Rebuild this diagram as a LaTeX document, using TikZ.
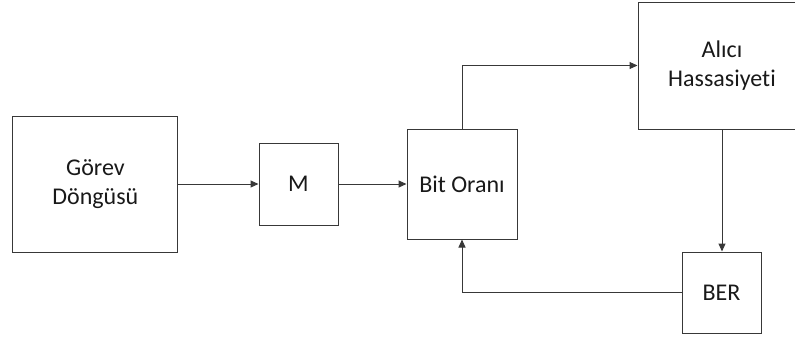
\documentclass[tikz,border=0pt]{standalone}
\usepackage{fontspec}
\setmainfont{Carlito}[Ligatures={CommonOff,RareOff}]
\usetikzlibrary{arrows.meta}
\begin{document}
\begin{tikzpicture}[x=1pt,y=-1pt,
  blk/.style={draw=black!78,line width=1pt,inner sep=0pt,align=center,
    font=\fontsize{24}{29}\selectfont,text=black!90},
  conn/.style={draw=black!78,line width=1pt,-{Triangle[length=8pt,width=7pt]}}]
  \clip (0,0) rectangle (795,338);
  \node[blk,minimum width=165pt,minimum height=136pt] (gorev) at (95.4,184) {Görev\\Döngüsü};
  \node[blk,minimum width=79pt,minimum height=82pt] (m) at (298.5,184) {M};
  \node[blk,minimum width=110pt,minimum height=110pt] (bit) at (462,184) {Bit Oranı};
  \node[blk,minimum width=168pt,minimum height=127pt] (alici) at (722,65.5) {Alıcı\\Hassasiyeti};
  \node[blk,minimum width=79pt,minimum height=81pt] (ber) at (721.5,292.5) {BER};
  \draw[conn] (gorev.east) -- (m.west);
  \draw[conn] (m.east) -- (bit.west);
  \draw[conn] (bit.north) |- (alici.west);
  \draw[conn] (alici.south) -- (alici.south |- ber.north);
  \draw[conn] (ber.west) -| (bit.south);
\end{tikzpicture}
\end{document}
